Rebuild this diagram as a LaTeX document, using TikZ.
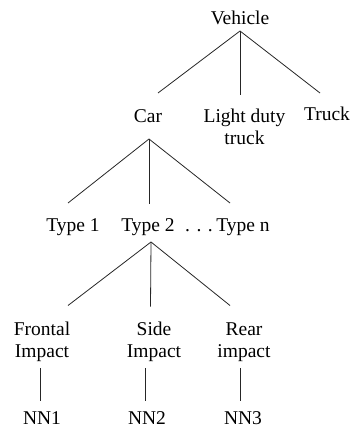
\documentclass[tikz,border=0pt]{standalone}
\usepackage{fontspec}
\setmainfont{Liberation Serif}
\begin{document}
\begin{tikzpicture}[x=1pt,y=-1pt,
  lbl/.style={anchor=base,inner sep=0pt,font=\fontsize{19.5}{22}\selectfont},
  edge/.style={line width=0.8pt,draw=black!85}]
\useasboundingbox (0,0) rectangle (352,430);
\newcommand{\twoline}[2]{\begin{tabular}[t]{@{}c@{}}#1\\#2\end{tabular}}
% labels
\node[lbl] (vehicle) at (240,25) {Vehicle};
\node[lbl] (car) at (148,122.5) {Car};
\node[lbl] (ldt) at (244.5,122.5) {\twoline{Light duty}{truck}};
\node[lbl] (truck) at (327,121) {Truck};
\node[lbl] (type1) at (73,231) {Type 1};
\node[lbl] (type2) at (148,231) {Type 2};
\node[lbl] (dots) at (199,231) {. . .};
\node[lbl] (typen) at (243,231) {Type n};
\node[lbl] (frontal) at (42,335.5) {\twoline{Frontal}{Impact}};
\node[lbl] (side) at (154,335.5) {\twoline{Side}{Impact}};
\node[lbl] (rear) at (244,335.5) {\twoline{Rear}{impact}};
\node[lbl] (nn1) at (42,424) {NN1};
\node[lbl] (nn2) at (147,424) {NN2};
\node[lbl] (nn3) at (243,424) {NN3};
% attachment points
\coordinate (vehicleB) at (240,31);
\coordinate (carT) at (158,93);
\coordinate (ldtT) at (240,95);
\coordinate (truckT) at (320,93);
\coordinate (carB) at (149,139);
\coordinate (type1T) at (68,203);
\coordinate (type2T) at (149,204);
\coordinate (typenT) at (230,203);
\coordinate (type2B) at (151,242);
\coordinate (frontalT) at (68,305.5);
\coordinate (sideT) at (150.5,306.5);
\coordinate (rearT) at (230,305.5);
\coordinate (frontalB) at (40,368);
\coordinate (nn1T) at (40,400.5);
\coordinate (sideB) at (145,368);
\coordinate (nn2T) at (145,400.5);
\coordinate (rearB) at (240,368);
\coordinate (nn3T) at (240,400.5);
% connectors
\draw[edge] (vehicleB) -- (carT);
\draw[edge] (vehicleB) -- (ldtT);
\draw[edge] (vehicleB) -- (truckT);
\draw[edge] (carB) -- (type1T);
\draw[edge] (carB) -- (type2T);
\draw[edge] (carB) -- (typenT);
\draw[edge] (type2B) -- (frontalT);
\draw[edge] (type2B) -- (sideT);
\draw[edge] (type2B) -- (rearT);
\draw[edge] (frontalB) -- (nn1T);
\draw[edge] (sideB) -- (nn2T);
\draw[edge] (rearB) -- (nn3T);
\end{tikzpicture}
\end{document}
